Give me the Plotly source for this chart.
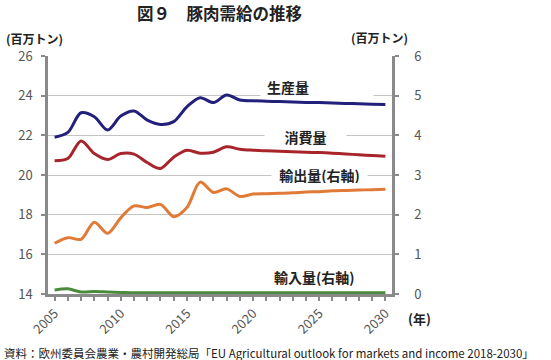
import plotly.graph_objects as go

years = list(range(2005, 2031))
production = [21.90, 22.15, 23.14, 22.94, 22.27, 22.97, 23.23, 22.77, 22.55, 22.69,
              23.44, 23.90, 23.65, 24.03, 23.78, 23.74, 23.72, 23.70, 23.68, 23.66,
              23.65, 23.63, 23.61, 23.59, 23.57, 23.55]
consumption = [20.72, 20.83, 21.72, 21.08, 20.78, 21.08, 21.05, 20.63, 20.33, 20.90,
               21.25, 21.10, 21.15, 21.42, 21.30, 21.25, 21.22, 21.20, 21.17, 21.15,
               21.13, 21.10, 21.06, 21.02, 20.98, 20.95]
exports = [1.28, 1.42, 1.38, 1.81, 1.53, 1.92, 2.22, 2.18, 2.26, 1.95,
           2.18, 2.82, 2.56, 2.65, 2.46, 2.52, 2.53, 2.54, 2.55, 2.57,
           2.58, 2.60, 2.61, 2.62, 2.63, 2.64]
imports = [0.10, 0.13, 0.05, 0.06, 0.05, 0.04, 0.03, 0.03, 0.03, 0.03,
           0.03, 0.03, 0.03, 0.03, 0.03, 0.03, 0.03, 0.03, 0.03, 0.03,
           0.03, 0.03, 0.03, 0.03, 0.03, 0.03]

left_ticks = [14, 16, 18, 20, 22, 24, 26]
right_ticks = [0, 1, 2, 3, 4, 5, 6]
x_ticks = [2005, 2010, 2015, 2020, 2025, 2030]

FONT = "Noto Sans CJK JP"
W, H = 551, 360
L, R, T, B = 48, 392, 56, 294

def px(x):
    return (x - L) / (R - L)

def py(y):
    return (B - y) / (B - T)

fig = go.Figure()
fig.add_trace(go.Scatter(x=years, y=production, mode="lines",
                         line=dict(color="#22207a", width=3, shape="spline", smoothing=0.9),
                         yaxis="y", showlegend=False, hoverinfo="skip"))
fig.add_trace(go.Scatter(x=years, y=consumption, mode="lines",
                         line=dict(color="#a8242b", width=3, shape="spline", smoothing=0.9),
                         yaxis="y", showlegend=False, hoverinfo="skip"))
fig.add_trace(go.Scatter(x=years, y=exports, mode="lines",
                         line=dict(color="#e07a36", width=3, shape="spline", smoothing=0.9),
                         yaxis="y2", showlegend=False, hoverinfo="skip"))
fig.add_trace(go.Scatter(x=years, y=imports, mode="lines",
                         line=dict(color="#4c8a3c", width=3, shape="spline", smoothing=0.9),
                         yaxis="y2", showlegend=False, hoverinfo="skip"))

axis_col = "#8a8a8a"
tick_font = dict(family=FONT, size=13, color="#555555")

fig.update_layout(
    width=W, height=H,
    margin=dict(l=L, r=W - R, t=T, b=H - B, pad=0),
    paper_bgcolor="white", plot_bgcolor="white",
    font=dict(family=FONT, color="#222222"),
    xaxis=dict(range=[2004.5, 2030.5], tickvals=x_ticks, ticktext=[str(v) for v in x_ticks],
               tickangle=-45, ticks="outside", ticklen=4, tickwidth=1.5, tickcolor=axis_col,
               minor=dict(dtick=1, tick0=2005, ticks="outside", ticklen=4, tickwidth=1.5, tickcolor=axis_col),
               showline=True, linecolor=axis_col, linewidth=2.5, showgrid=False, zeroline=False,
               tickfont=tick_font, automargin=False),
    yaxis=dict(range=[14, 26], tickvals=left_ticks, ticks="outside", ticklen=4, tickwidth=1.5,
               tickcolor=axis_col, showline=True, linecolor=axis_col, linewidth=2.5,
               showgrid=True, gridcolor="#c4c4c4", gridwidth=1, zeroline=False,
               tickfont=tick_font, ticklabelstandoff=6, automargin=False),
    yaxis2=dict(range=[0, 6], tickvals=right_ticks, overlaying="y", side="right",
                ticks="outside", ticklen=4, tickwidth=1.5, tickcolor=axis_col,
                showline=True, linecolor=axis_col, linewidth=2.5, showgrid=False, zeroline=False,
                tickfont=tick_font, ticklabelstandoff=13, automargin=False),
)

def note(text, x, y, size, xanchor="center", **kw):
    return dict(text=text, x=px(x), y=py(y), xref="paper", yref="paper",
                xanchor=xanchor, yanchor="middle", showarrow=False,
                font=dict(family=FONT, size=size, color="#222"), **kw)

ann = [
    note("<b>図９　豚肉需給の推移</b>", 219, 13, 16.5),
    note("<b>(百万トン)</b>", 34, 38, 12),
    note("<b>(百万トン)</b>", 379, 37, 12),
    note("<b>(年)</b>", 419, 318, 13),
    note("資料：欧州委員会農業・農村開発総局「EU Agricultural outlook for markets and income 2018-2030」",
         2, 353, 11.5, xanchor="left"),
    note(" ", 260, 87, 14, xanchor="left", width=112, height=18, bgcolor="white", borderpad=0),
    note("<b>生産量</b>", 287.5, 87, 14),
    note("<b>消費量</b>", 305.5, 137, 14, width=81, height=16, bgcolor="white", borderpad=0),
    note("<b>輸出量(右軸)</b>", 319.5, 175, 14, width=95, height=16, bgcolor="white", borderpad=0),
    note("<b>輸入量(右軸)</b>", 314, 277, 14),
]
fig.update_layout(annotations=ann)

fig.write_html("out.html", config={"displayModeBar": False},
               post_script="document.body.style.margin='0px';")
